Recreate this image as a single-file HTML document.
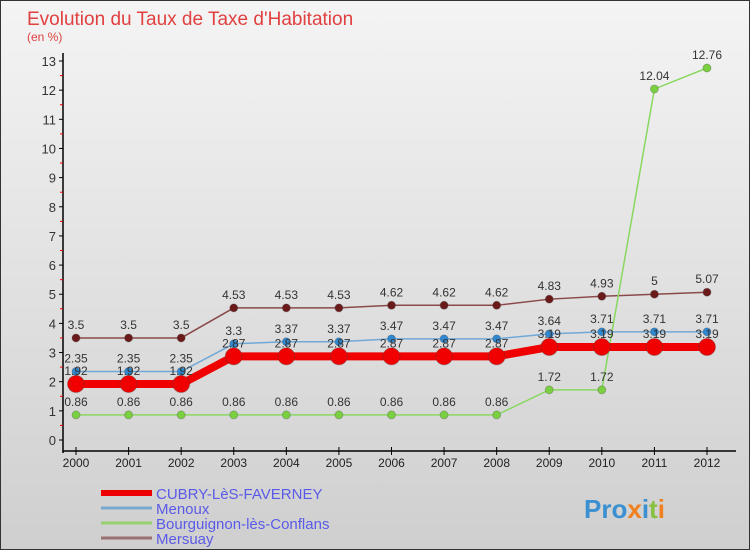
<!DOCTYPE html>
<html><head><meta charset="utf-8"><style>
body{margin:0}
#c{width:750px;height:550px;position:relative;background:linear-gradient(#f4f4f4,#cfcfcf);font-family:"Liberation Sans",sans-serif;border:1px solid #333;box-sizing:border-box;overflow:hidden}
</style></head><body>
<div id="c">
<svg id="s" width="750" height="550" style="position:absolute;left:0;top:0"></svg>
</div>
<script>
const years=["2000","2001","2002","2003","2004","2005","2006","2007","2008","2009","2010","2011","2012"];
const cubry=[1.92,1.92,1.92,2.87,2.87,2.87,2.87,2.87,2.87,3.19,3.19,3.19,3.19];
const menoux=[2.35,2.35,2.35,3.3,3.37,3.37,3.47,3.47,3.47,3.64,3.71,3.71,3.71];
const bourg=[0.86,0.86,0.86,0.86,0.86,0.86,0.86,0.86,0.86,1.72,1.72,12.04,12.76];
const mers=[3.5,3.5,3.5,4.53,4.53,4.53,4.62,4.62,4.62,4.83,4.93,5,5.07];
const yTicks=[0,1,2,3,4,5,6,7,8,9,10,11,12,13];
const NS="http://www.w3.org/2000/svg";
const svg=document.getElementById('s');
const X=i=>75+i*(706-75)/12;
const Y=v=>439-v*(439-60)/13;
function el(t,a,txt,parent){const e=document.createElementNS(NS,t);for(const k in a)e.setAttribute(k,a[k]);if(txt!==undefined)e.textContent=txt;(parent||svg).appendChild(e);return e;}
let e;
e=el('text',{x:26,y:24,'font-size':19,fill:'#e04040'},"Evolution du Taux de Taxe d'Habitation");


e=el('text',{x:26,y:40,'font-size':12,fill:'#e04040'},"(en %)");


e=el('line',{x1:62,y1:52,x2:62,y2:452,stroke:'#000','stroke-width':1.5});


e=el('line',{x1:62,y1:450,x2:735,y2:450,stroke:'#000','stroke-width':1.5});


yTicks.forEach(v=>{
 e=el('line',{x1:58,y1:Y(v),x2:62,y2:Y(v),stroke:'#000'});
 
 
 if(v<13){e=el('line',{x1:59,y1:Y(v+0.5),x2:62,y2:Y(v+0.5),stroke:'#e00'});
 
 }
 e=el('text',{x:55,y:Y(v)+5,'font-size':13,fill:'#333','text-anchor':'end'},String(v));
 
 
});
years.forEach((y,i)=>{
 e=el('line',{x1:X(i),y1:446,x2:X(i),y2:454,stroke:'#000'});
 
 
 e=el('text',{x:X(i),y:466,'font-size':12,fill:'#222','text-anchor':'middle'},y);
 
 
});
function series(d,color,w,r,name,dot){
 e=el('polyline',{points:d.map((v,i)=>X(i)+','+Y(v)).join(' '),fill:'none',stroke:color,'stroke-width':w});
 
 
 d.forEach((v,i)=>{
  e=el('circle',{cx:X(i),cy:Y(v),r:r,fill:dot,stroke:'#444','stroke-opacity':0.3});
  
  
  e=el('text',{x:X(i),y:Y(v)-9,'font-size':12,fill:'#333','text-anchor':'middle'},String(v));
  
  
 });
}
series(mers,'#8b4a4a',1.5,4,'mersuay','#6b1a1a');
series(bourg,'#88d860',1.5,4,'bourguignon','#7ad040');
series(menoux,'#70a8d8',1.5,4,'menoux','#3088d0');
series(cubry,'#f00000',8,8.5,'cubry','#f00000');
const legend=[["CUBRY-LèS-FAVERNEY","#ee0000",6],["Menoux","#78a8cc",3],["Bourguignon-lès-Conflans","#98d070",3],["Mersuay","#9a7070",3]];
legend.forEach((l,i)=>{
 const y=492+i*15;
 e=el('line',{x1:100,y1:y,x2:151,y2:y,stroke:l[1],'stroke-width':l[2]});
 
 
 e=el('text',{x:155,y:y+6,'font-size':15,fill:'#5a5ae8'},l[0]);
 
 
});
const logo=el('text',{x:583,y:517,'font-size':26,'font-weight':'bold'});


el('tspan',{fill:'#3a90d0'},"Pro",logo);
el('tspan',{fill:'#f08020'},"x",logo);
el('tspan',{fill:'#3a90d0'},"i",logo);
el('tspan',{fill:'#88c040'},"t",logo);
el('tspan',{fill:'#f08020'},"i",logo);
</script>
</body></html>
